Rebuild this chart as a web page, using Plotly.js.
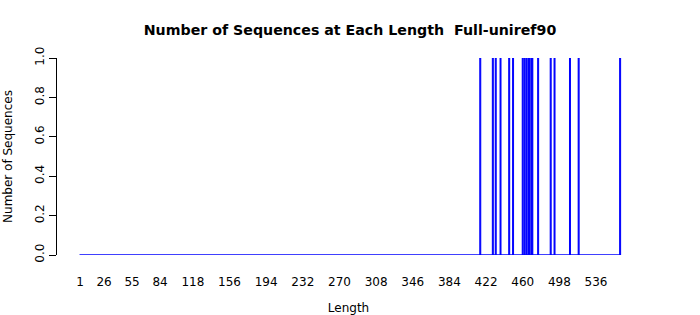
<!DOCTYPE html>
<html>
<head>
<meta charset="utf-8">
<script src="https://cdn.plot.ly/plotly-3.0.1.min.js"></script>
<style>html,body{margin:0;padding:0;background:#fff;}#chart{width:700px;height:315px;}</style>
</head>
<body>
<div id="chart"></div>
<script>
// Sequence lengths present (each with one sequence)
const lengths = [416, 429, 432, 437, 446, 450, 460, 462, 464, 466, 467, 469, 470, 476, 489, 493, 509, 518, 561];
const counts  = [1, 1, 1, 1, 1, 1, 1, 1, 1, 1, 1, 1, 1, 1, 1, 1, 1, 1, 1];
// Full range of lengths on the axis
const minLength = 1;
const maxLength = 561;
const tickLabels = [1, 26, 55, 84, 118, 156, 194, 232, 270, 308, 346, 384, 422, 460, 498, 536];
const yTicks = [0, 0.2, 0.4, 0.6, 0.8, 1.0];

const baseline = {
  type: 'scatter', mode: 'lines',
  x: [minLength - 0.5, maxLength + 0.5], y: [0, 0],
  line: {color: 'blue', width: 1.3},
  hoverinfo: 'skip', showlegend: false
};
const bars = {
  type: 'bar', x: lengths, y: counts, width: 1,
  marker: {color: 'blue', line: {color: 'blue', width: 1}},
  showlegend: false
};

const font = {family: 'DejaVu Sans, sans-serif', size: 12, color: '#000'};
const layout = {
  width: 700, height: 315,
  margin: {l: 57, r: 60, t: 58, b: 60},
  paper_bgcolor: '#fff', plot_bgcolor: '#fff',
  font: font,
  bargap: 0,
  title: {text: '<b>Number of Sequences at Each Length  Full-uniref90</b>',
          font: {family: 'DejaVu Sans, sans-serif', size: 14.2, color: '#000'},
          x: 0.5, xanchor: 'center', y: 0.906, yanchor: 'middle'},
  xaxis: {
    range: [-22.85, 581.6], showgrid: false, zeroline: false, showline: false,
    tickmode: 'array', tickvals: tickLabels, ticktext: tickLabels.map(String),
    ticks: 'outside', ticklen: 16, tickcolor: 'rgba(0,0,0,0)',
    tickfont: font,
    title: {text: 'Length', font: font, standoff: 15}
  },
  yaxis: {
    range: [0, 1], showgrid: false, zeroline: false,
    showline: true, linecolor: '#000', linewidth: 1,
    tickmode: 'array', tickvals: yTicks, ticktext: yTicks.map(v => v.toFixed(1)),
    ticks: 'outside', ticklen: 7, tickcolor: '#000', tickangle: -90,
    tickfont: font,
    title: {text: 'Number of Sequences', font: font, standoff: 18}
  }
};
Plotly.newPlot('chart', [baseline, bars], layout, {displayModeBar: false, staticPlot: true});
</script>
</body>
</html>
